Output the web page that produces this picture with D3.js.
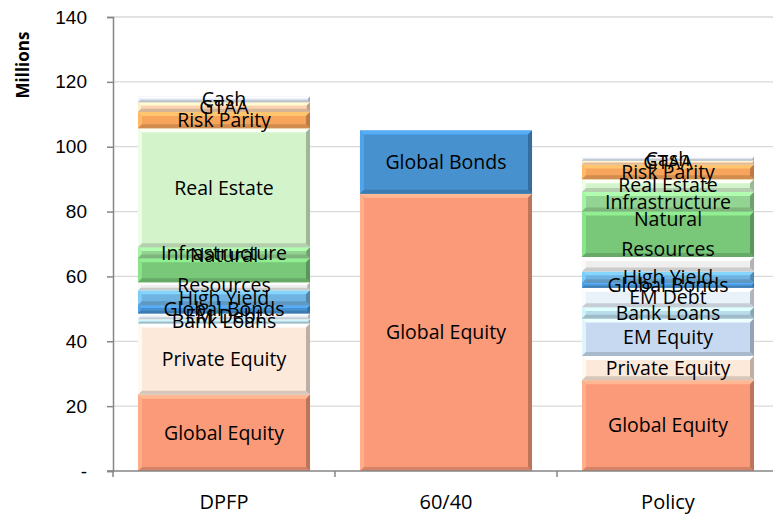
<!DOCTYPE html>
<html>
<head>
<meta charset="utf-8">
<script src="https://cdn.jsdelivr.net/npm/d3@7"></script>
<style>
  body { margin: 0; background: #fff; }
  svg { display: block; font-family: "Open Sans", "Liberation Sans", sans-serif; }
</style>
</head>
<body>
<svg width="773" height="515"></svg>
<script>
// categorias do eixo X
const categories = ["DPFP", "60/40", "Policy"];

// classes de ativos, de baixo para cima na pilha
const assetClasses = ["Global Equity", "Private Equity", "EM Equity", "Bank Loans", "EM Debt",
  "Global Bonds", "High Yield", "Other", "Natural Resources", "Infrastructure",
  "Real Estate", "Risk Parity", "GTAA", "Cash"];

// rótulos mostrados em cada segmento ("" = sem rótulo)
const segmentLabels = ["Global Equity", "Private Equity", "EM Equity", "Bank Loans", "EM Debt",
  "Global Bonds", "High Yield", "", "Natural\nResources", "Infrastructure",
  "Real Estate", "Risk Parity", "GTAA", "Cash"];

// valores em milhões
const dpfpValues    = [23.5, 22, 0, 1.3, 1.8, 2.5, 4.6, 2.5, 7.4, 3.4, 36.7, 5, 3, 1.8];
const sixty40Values = [85.5, 0, 0, 0, 0, 19.5, 0, 0, 0, 0, 0, 0, 0, 0];
const policyValues  = [28, 7.5, 11.5, 3.5, 6, 1.5, 3.5, 4.5, 14, 6, 4, 4.5, 1.2, 1.2];

const colors = ["#fa9a79", "#fde9da", "#c6d9f0", "#b9dcea", "#e9f1f9",
  "#4791cf", "#6fb3e3", "#eeeeee", "#79c879", "#93d493",
  "#d3f3cb", "#f7a55c", "#fbd3b0", "#dbe4ee"];

// valores dos ticks do eixo Y
const yTicks = [0, 20, 40, 60, 80, 100, 120, 140];

const svg = d3.select("svg");
const margens = { left: 113, right: -6, top: 17, bottom: 44 };
const width = 773, height = 515;

// monta tabela para o d3.stack
const seriesByCat = [dpfpValues, sixty40Values, policyValues];
const table = categories.map((c, i) => {
  const row = { cat: c };
  assetClasses.forEach((a, j) => row[a] = seriesByCat[i][j]);
  return row;
});
const stacked = d3.stack().keys(assetClasses)(table);

const x = d3.scaleBand()
  .domain(categories)
  .range([margens.left, width - margens.right])
  .paddingInner(0.225)
  .paddingOuter(0.1125);

const y = d3.scaleLinear()
  .domain([0, 140])
  .range([height - margens.bottom, margens.top]);

// linhas de grade
svg.append("g")
  .selectAll("line")
  .data(yTicks.slice(1))
  .join("line")
  .attr("x1", margens.left).attr("x2", width)
  .attr("y1", d => y(d)).attr("y2", d => y(d))
  .attr("stroke", "#d9d9d9").attr("stroke-width", 1.3);

// eixo Y
const yAxis = svg.append("g")
  .attr("transform", `translate(${margens.left},0)`)
  .call(d3.axisLeft(y).tickValues(yTicks).tickSize(6).tickPadding(20)
    .tickFormat(d => d === 0 ? "-" : d));
yAxis.select(".domain").attr("stroke", "#868686").attr("stroke-width", 1.5);
yAxis.selectAll(".tick line").attr("stroke", "#868686").attr("stroke-width", 1.5);
yAxis.selectAll(".tick text").attr("font-size", 19).attr("fill", "#000");

// título do eixo Y
svg.append("text")
  .attr("transform", "rotate(-90)")
  .attr("x", -65).attr("y", 23)
  .attr("dy", "0.35em")
  .attr("text-anchor", "middle")
  .attr("font-size", 17).attr("font-weight", "bold")
  .text("Millions");

// barras empilhadas com efeito de bisel
const bw = x.bandwidth();
stacked.forEach((layer, j) => {
  const base = d3.color(colors[j]);
  const light = base.brighter(0.5).formatHex();
  const dark = base.darker(0.45).formatHex();
  const darker = base.darker(0.8).formatHex();
  layer.forEach((d, i) => {
    const v = d[1] - d[0];
    if (v <= 0) return;
    const x0 = x(categories[i]), x1 = x0 + bw;
    const yTop = y(d[1]), yBot = y(d[0]);
    const h = yBot - yTop;
    const b = Math.min(4, h / 3);
    const g = svg.append("g");
    g.append("rect").attr("x", x0).attr("y", yTop).attr("width", bw).attr("height", h)
      .attr("fill", colors[j]);
    // topo claro
    g.append("polygon").attr("points",
      `${x0},${yTop} ${x1},${yTop} ${x1 - b},${yTop + b} ${x0 + b},${yTop + b}`)
      .attr("fill", light);
    // esquerda clara
    g.append("polygon").attr("points",
      `${x0},${yTop} ${x0 + b},${yTop + b} ${x0 + b},${yBot - b} ${x0},${yBot}`)
      .attr("fill", light).attr("opacity", 0.7);
    // base escura
    g.append("polygon").attr("points",
      `${x0},${yBot} ${x1},${yBot} ${x1 - b},${yBot - b} ${x0 + b},${yBot - b}`)
      .attr("fill", dark);
    // direita escura
    g.append("polygon").attr("points",
      `${x1},${yTop} ${x1},${yBot} ${x1 - b},${yBot - b} ${x1 - b},${yTop + b}`)
      .attr("fill", darker);
  });
});

// rótulos dos segmentos
stacked.forEach((layer, j) => {
  if (!segmentLabels[j]) return;
  layer.forEach((d, i) => {
    if (d[1] - d[0] <= 0) return;
    const cx = x(categories[i]) + bw / 2;
    const cy = y((d[0] + d[1]) / 2);
    const lines = segmentLabels[j].split("\n");
    const t = svg.append("text")
      .attr("text-anchor", "middle")
      .attr("font-size", 19.5)
      .attr("fill", "#000");
    lines.forEach((ln, k) => {
      t.append("tspan")
        .attr("x", cx)
        .attr("y", cy + (k - (lines.length - 1) / 2) * 30)
        .attr("dy", "0.35em")
        .text(ln);
    });
  });
});

// eixo X
const xAxisY = y(0);
svg.append("line")
  .attr("x1", margens.left - 6).attr("x2", width)
  .attr("y1", xAxisY).attr("y2", xAxisY)
  .attr("stroke", "#868686").attr("stroke-width", 1.5);
const step = x.step();
svg.append("g").selectAll("line")
  .data(d3.range(categories.length + 1))
  .join("line")
  .attr("x1", k => margens.left + k * step).attr("x2", k => margens.left + k * step)
  .attr("y1", xAxisY).attr("y2", xAxisY + 6)
  .attr("stroke", "#868686").attr("stroke-width", 1.5);
svg.append("g").selectAll("text")
  .data(categories)
  .join("text")
  .attr("x", d => x(d) + bw / 2)
  .attr("y", xAxisY + 31)
  .attr("dy", "0.35em")
  .attr("text-anchor", "middle")
  .attr("font-size", 20)
  .text(d => d);
</script>
</body>
</html>
